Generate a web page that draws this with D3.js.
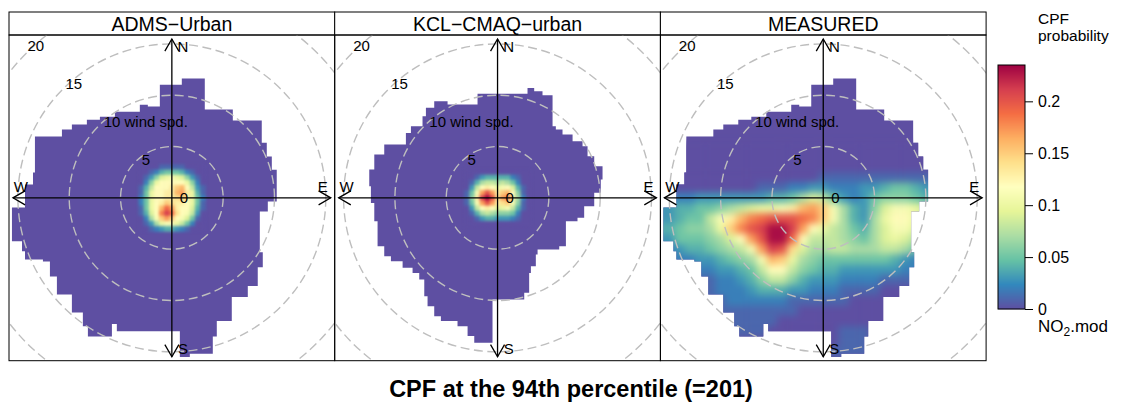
<!DOCTYPE html>
<html>
<head>
<meta charset="utf-8">
<script src="https://cdn.jsdelivr.net/npm/d3@7"></script>
<style>
  body { margin: 0; background: #fff; }
  text { font-family: "Liberation Sans", Arial, Helvetica, sans-serif; }
</style>
</head>
<body>
<svg width="1137" height="407"></svg>
<script>
const svg = d3.select('svg');

// ---- data ----
const panelNames = ["ADMS\u2212Urban", "KCL\u2212CMAQ\u2212urban", "MEASURED"];
const ringSpeeds = [5, 10, 15, 20];
const ringLabels = ["5", "10 wind spd.", "15", "20"];
const legendTicks = [0, 0.05, 0.1, 0.15, 0.2];
const cpfMax = 0.235;

// outline of the data area, [u, v] in wind speed units (ADMS and MEASURED share the met data)
const maskA = [[-1.17,11.03],[0.97,11.03],[0.97,11.62],[3.21,11.62],[3.21,8.6],[5.94,8.6],[5.94,7.53],[8.76,7.53],
  [8.76,5.38],[9.25,5.38],[9.25,4.02],[9.74,4.02],[9.74,2.75],[10.22,2.75],[10.22,-0.36],[9.35,-0.36],[9.35,-1.33],
  [8.57,-1.33],[8.57,-5.29],[8.86,-5.29],[8.86,-6.75],[8.37,-6.75],[8.37,-8.6],[7.4,-8.6],[7.4,-9.67],[5.84,-9.67],
  [5.84,-12.0],[4.38,-12.0],[4.38,-13.5],[3.99,-13.5],[3.99,-15.2],[1.75,-15.2],[1.75,-15.5],[0.78,-15.5],[0.78,-13.0],
  [-5.36,-13.0],[-5.36,-12.3],[-5.84,-12.3],[-5.84,-13.5],[-8.18,-13.5],[-8.18,-12.5],[-8.67,-12.5],[-8.67,-11.17],
  [-9.74,-11.17],[-9.74,-9.42],[-11.2,-9.42],[-11.2,-7.67],[-11.88,-7.67],[-11.88,-6.2],[-12.56,-6.2],[-12.56,-6.0],
  [-14.31,-6.0],[-14.31,-5.2],[-14.6,-5.2],[-14.6,-4.24],[-15.58,-4.24],[-15.58,-0.94],[-14.31,-0.94],[-14.31,1.3],
  [-13.53,1.3],[-13.53,2.46],[-13.34,2.46],[-13.34,5.97],[-10.71,5.97],[-10.71,6.65],[-9.74,6.65],[-9.74,7.14],
  [-8.28,7.14],[-8.28,7.62],[-7.01,7.62],[-7.01,7.9],[-5.55,7.9],[-5.55,8.4],[-3.12,8.4],[-3.12,9.08],[-2.34,9.08],
  [-2.34,8.89],[-1.17,8.89]];

// KCL-CMAQ outline
const maskK = [[-1.95,10.15],[2.92,10.15],[2.92,10.71],[3.57,10.71],[3.57,10.39],[4.38,10.39],[4.38,10.0],[5.36,10.0],
  [5.36,6.98],[5.68,6.98],[5.68,6.66],[6.33,6.66],[6.33,6.17],[7.31,6.17],[7.31,5.52],[8.28,5.52],[8.28,5.03],[8.77,5.03],
  [8.77,4.06],[9.42,4.06],[9.42,3.08],[10.23,3.08],[10.23,1.79],[10.06,1.79],[10.06,0.49],[9.42,0.49],[9.42,-0.81],
  [8.44,-0.81],[8.44,-1.95],[7.79,-1.95],[7.79,-2.27],[6.66,-2.27],[6.66,-4.71],[6.01,-4.71],[6.01,-5.03],[3.9,-5.03],
  [3.9,-5.52],[3.73,-5.52],[3.73,-6.66],[3.25,-6.66],[3.25,-7.31],[3.08,-7.31],[3.08,-9.25],[2.6,-9.25],[2.6,-9.9],
  [-0.49,-9.9],[-0.49,-14.12],[-2.27,-14.12],[-2.27,-13.47],[-2.92,-13.47],[-2.92,-12.5],[-3.9,-12.5],[-3.9,-12.01],
  [-5.52,-12.01],[-5.52,-11.53],[-6.17,-11.53],[-6.17,-10.55],[-6.82,-10.55],[-6.82,-9.58],[-7.14,-9.58],[-7.14,-7.95],
  [-7.63,-7.95],[-7.63,-7.31],[-8.28,-7.31],[-8.28,-6.82],[-9.25,-6.82],[-9.25,-6.17],[-10.39,-6.17],[-10.39,-5.68],
  [-11.04,-5.68],[-11.04,-4.71],[-11.69,-4.71],[-11.69,-2.27],[-12.01,-2.27],[-12.01,-0.49],[-12.34,-0.49],[-12.34,1.14],
  [-12.5,1.14],[-12.5,2.76],[-12.01,2.76],[-12.01,4.22],[-11.04,4.22],[-11.04,5.19],[-8.93,5.19],[-8.93,6.33],
  [-8.44,6.33],[-8.44,6.98],[-7.31,6.98],[-7.31,7.95],[-6.98,7.95],[-6.98,8.77],[-6.17,8.77],[-6.17,9.42],
  [-4.87,9.42],[-4.87,9.09],[-1.95,9.09]];

// CPF x100 on grids; everything else inside the outline is 0
const admsU = [-3,-2.5,-2,-1.5,-1,-0.5,0,0.5,1,1.5,2,2.5,3];
const admsV = [3,2.5,2,1.5,1,0.5,0,-0.5,-1,-1.5,-2,-2.5,-3];
const admsCPF = [
  [0,0,0,0,1,1,1,1,1,0,0,0,0],
  [0,0,1,2,4,5,5,5,4,2,1,0,0],
  [0,1,3,6,9,10,11,10,9,6,3,1,0],
  [0,2,6,10,12,12,12,12,12,10,6,2,0],
  [1,4,8,12,12,12,13,15,16,12,8,3,1],
  [1,5,10,12,12,13,13,16,17,13,10,4,1],
  [2,5,10,12,12,13,13,14,15,13,10,5,2],
  [2,5,10,12,13,15,14,13,13,12,10,5,1],
  [1,5,10,12,16,19,17,13,12,12,9,4,1],
  [1,4,9,12,18,21,19,14,12,11,8,3,0],
  [0,2,7,11,15,17,15,12,11,9,5,1,0],
  [0,1,3,7,10,11,11,10,8,5,2,0,0],
  [0,0,1,2,3,4,4,3,2,1,0,0,0]
];

const kclU = [-3,-2.5,-2,-1.5,-1,-0.5,0,0.5,1,1.5,2,2.5,3];
const kclV = [2.5,2,1.5,1,0.5,0,-0.5,-1,-1.5,-2,-2.5];
const kclCPF = [
  [0,0,0,0,0,0,0,0,0,0,0,0,0],
  [0,0,1,3,4,4,4,4,4,2,1,0,0],
  [0,1,4,7,8,8,7,8,7,5,2,0,0],
  [0,3,8,12,13,12,10,11,12,9,4,1,0],
  [1,5,11,17,20,17,13,15,16,12,6,1,0],
  [1,6,13,21,24,20,14,17,18,13,7,2,0],
  [1,5,11,17,20,17,13,14,15,11,6,1,0],
  [0,3,8,12,13,12,9,10,11,8,4,1,0],
  [0,1,4,7,8,7,6,6,6,5,2,0,0],
  [0,0,1,3,4,4,3,3,3,2,1,0,0],
  [0,0,0,0,0,0,0,0,0,0,0,0,0]
];

const measU = [-16,-15,-14,-13,-12,-11,-10,-9,-8,-7,-6,-5,-4,-3,-2,-1,0,1,2,3,4,5,6,7,8,9,10,11];
const measV = [5,4,3,2,1,0,-1,-2,-3,-4,-5,-6,-7,-8,-9,-10,-11,-12,-13,-14,-15,-16];
const measCPF = [
  [0,0,0,0,0,0,0,0,0,0,0,0,0,0,0,0,0,0,0,0,0,0,0,0,0,0,0,0],
  [0,0,0,0,0,0,0,0,0,0,0,0,0,0,0,0,0,0,0,0,0,0,0,0,0,0,0,0],
  [0,0,0,0,0,0,0,0,0,0,0,0,0,0,0,0,0,0,0,0,0,0,0,0,0,0,0,0],
  [0,0,0,0,0,0,0,0,0,0,0,0,0,0,0,0,1,1,1,1,1,1,1,1,1,1,1,1],
  [0,0,0,0,0,0,0,0,0,0,1,1,1,2,2,3,3,2,2,2,3,3,4,5,5,4,3,3],
  [2,2,2,2,3,3,3,3,3,3,3,4,4,5,7,9,8,5,3,2,3,5,6,6,6,5,4,4],
  [3,3,4,4,5,5,6,7,8,9,10,10,11,13,16,17,15,11,7,4,3,6,9,11,11,10,8,8],
  [3,3,4,5,5,8,11,13,16,18,19,20,20,20,19,18,15,11,7,4,3,7,10,12,12,10,7,7],
  [4,4,5,6,6,7,10,15,18,20,21,23,23,21,17,12,10,8,7,5,4,7,9,11,11,9,7,7],
  [3,3,5,5,5,6,7,9,12,17,20,23,23,19,12,8,8,8,7,6,5,7,9,10,9,7,5,5],
  [2,2,3,4,4,5,6,7,8,11,17,21,20,14,9,7,7,8,8,7,7,7,8,8,7,5,4,4],
  [2,2,2,2,3,3,4,5,6,7,11,16,15,10,7,6,5,5,5,5,5,5,5,4,3,2,2,2],
  [1,1,1,2,2,2,3,3,4,5,8,12,12,8,6,5,4,4,3,3,3,3,3,3,2,2,1,1],
  [1,1,1,1,1,1,2,2,3,4,6,8,8,6,4,3,3,3,2,2,2,2,1,1,1,1,1,1],
  [1,1,1,1,1,1,2,2,2,3,4,4,4,3,3,2,2,2,1,1,1,1,0,0,0,0,0,0],
  [1,1,1,1,1,1,1,2,2,2,2,2,2,1,1,1,1,1,1,0,0,0,0,0,0,0,0,0],
  [1,1,1,1,1,1,1,1,1,1,1,1,1,1,0,0,0,0,0,0,0,0,0,0,0,0,0,0],
  [0,0,0,0,0,0,0,1,1,1,1,1,0,0,0,0,0,0,0,0,0,0,0,0,0,0,0,0],
  [0,0,0,0,0,0,0,1,1,1,1,0,0,0,0,0,0,0,1,1,1,0,0,0,0,0,0,0],
  [0,0,0,0,0,0,0,0,0,0,0,0,0,0,0,0,0,0,1,1,1,0,0,0,0,0,0,0],
  [0,0,0,0,0,0,0,0,0,0,0,0,0,0,0,0,0,1,1,1,1,0,0,0,0,0,0,0],
  [0,0,0,0,0,0,0,0,0,0,0,0,0,0,0,0,0,0,0,0,0,0,0,0,0,0,0,0]
];

// ---- layout ----
const margin = {left: 9, top: 12};
const stripH = 23;
const pw = 325.7;            // panel width = height
const upper = 15.48;         // axis extent in wind speed units
const lim = upper * 1.025;

const xs = d3.scaleLinear().domain([-lim, lim]).range([0, pw]);
const ys = d3.scaleLinear().domain([-lim, lim]).range([pw, 0]);
const color = d3.scaleLinear()
  .domain(d3.range(11).map(i => cpfMax * i / 10))
  .range(d3.schemeSpectral[11].slice().reverse())
  .clamp(true);

const defs = svg.append('defs');
[['blurS', 1.6], ['blurL', 3.6]].forEach(([id, sd]) => {
  defs.append('filter').attr('id', id)
    .attr('x', '-10%').attr('y', '-10%').attr('width', '120%').attr('height', '120%')
    .attr('color-interpolation-filters', 'sRGB')
    .append('feGaussianBlur').attr('stdDeviation', sd);
});

const outline = d3.line().x(d => xs(d[0])).y(d => ys(d[1]));

const panels = [
  {mask: maskA, u: admsU, v: admsV, cpf: admsCPF, step: 0.5, blur: 'blurS'},
  {mask: maskK, u: kclU, v: kclV, cpf: kclCPF, step: 0.5, blur: 'blurS'},
  {mask: maskA, u: measU, v: measV, cpf: measCPF, step: 1, blur: 'blurL'}
];

panels.forEach((p, i) => {
  const px = margin.left + i * pw;

  // strip
  svg.append('rect')
    .attr('x', px).attr('y', margin.top).attr('width', pw).attr('height', stripH)
    .attr('fill', 'white').attr('stroke', 'black').attr('stroke-width', 1);
  svg.append('text')
    .attr('x', px + pw / 2).attr('y', margin.top + 18.6)
    .attr('text-anchor', 'middle').style('font-size', '19.5px')
    .text(panelNames[i]);

  const g = svg.append('g').attr('transform', `translate(${px},${margin.top + stripH})`);
  defs.append('clipPath').attr('id', 'panel' + i)
    .append('rect').attr('width', pw).attr('height', pw);
  defs.append('clipPath').attr('id', 'mask' + i)
    .append('path').attr('d', outline(p.mask) + 'Z');

  const inner = g.append('g').attr('clip-path', `url(#panel${i})`);

  // zero-probability area
  inner.append('path').attr('d', outline(p.mask) + 'Z').attr('fill', color(0));

  // cells
  const cells = [];
  p.cpf.forEach((row, j) => row.forEach((val, k) => cells.push({u: p.u[k], v: p.v[j], cpf: val / 100})));
  const cw = xs(p.step) - xs(0);
  inner.append('g').attr('clip-path', `url(#mask${i})`)
    .append('g').attr('filter', `url(#${p.blur})`)
    .selectAll('rect').data(cells).join('rect')
      .attr('x', d => xs(d.u - p.step / 2))
      .attr('y', d => ys(d.v + p.step / 2))
      .attr('width', cw + 0.5)
      .attr('height', cw + 0.5)
      .attr('fill', d => color(d.cpf));

  // dashed wind speed rings
  inner.selectAll('circle.ring').data(ringSpeeds).join('circle')
    .attr('class', 'ring')
    .attr('cx', xs(0)).attr('cy', ys(0))
    .attr('r', d => xs(d) - xs(0))
    .attr('fill', 'none').attr('stroke', '#bebebe')
    .attr('stroke-width', 1.4).attr('stroke-dasharray', '9,4.5');

  // compass axes with arrow heads at both ends
  const ax = inner.append('g').attr('stroke', 'black').attr('stroke-width', 1.3).attr('fill', 'none');
  ax.append('line').attr('x1', xs(-upper)).attr('x2', xs(upper)).attr('y1', ys(0)).attr('y2', ys(0));
  ax.append('line').attr('x1', xs(0)).attr('x2', xs(0)).attr('y1', ys(-upper)).attr('y2', ys(upper));
  const headLen = 14, headAng = Math.PI / 6;
  [[upper, 0], [-upper, 0], [0, upper], [0, -upper]].forEach(([eu, ev]) => {
    const tx = xs(eu), ty = ys(ev);
    const ang = Math.atan2(ty - ys(0), tx - xs(0));
    const pts = [ang - headAng, ang + headAng].map(a => [tx - headLen * Math.cos(a), ty - headLen * Math.sin(a)]);
    ax.append('path').attr('d', `M${pts[0]}L${tx},${ty}L${pts[1]}`);
  });

  // labels
  const lab = g.append('g').style('font-size', '15px');
  [['N', 0.07, 0.95], ['E', 0.95, 0.07], ['S', 0.07, -0.95], ['W', -0.95, 0.07]].forEach(([t, fu, fv]) => {
    lab.append('text').attr('x', xs(fu * upper)).attr('y', ys(fv * upper))
      .attr('text-anchor', 'middle').attr('dominant-baseline', 'central').text(t);
  });
  lab.selectAll('text.ringlab').data(ringSpeeds).join('text')
    .attr('class', 'ringlab')
    .attr('x', d => xs(-d * 1.05 * Math.SQRT1_2) + 8)
    .attr('y', d => ys(d * 1.05 * Math.SQRT1_2))
    .attr('dominant-baseline', 'central')
    .text((d, j) => ringLabels[j]);
  lab.append('text').attr('x', xs(0) + 8).attr('y', ys(0))
    .attr('dominant-baseline', 'central').text('0');

  // panel border
  g.append('rect').attr('width', pw).attr('height', pw)
    .attr('fill', 'none').attr('stroke', 'black').attr('stroke-width', 1);
});

// ---- colour key ----
const keyX = 998, keyW = 27;
const keyScale = d3.scaleLinear().domain([0, cpfMax]).range([309, 65]);
const key = svg.append('g');
key.selectAll('rect.step').data(d3.range(0, 244)).join('rect')
  .attr('class', 'step')
  .attr('x', keyX).attr('y', d => 65 + d)
  .attr('width', keyW).attr('height', 1.3)
  .attr('fill', d => color(keyScale.invert(65 + d + 0.5)));
key.append('rect').attr('x', keyX).attr('y', 65).attr('width', keyW).attr('height', 244)
  .attr('fill', 'none').attr('stroke', 'black').attr('stroke-width', 1);
const keyAxis = key.append('g').attr('transform', `translate(${keyX + keyW},0)`)
  .call(d3.axisRight(keyScale).tickValues(legendTicks).tickSize(8).tickPadding(5).tickFormat(d => String(d)));
keyAxis.select('.domain').remove();
keyAxis.selectAll('text').style('font-size', '16px').style('font-family', '"Liberation Sans", Arial, sans-serif');

key.append('text').attr('x', 1038).attr('y', 24).style('font-size', '15.5px').text('CPF');
key.append('text').attr('x', 1038).attr('y', 41).style('font-size', '15.5px').text('probability');
const no2 = key.append('text').attr('x', 1038).attr('y', 332).style('font-size', '17px');
no2.append('tspan').text('NO');
no2.append('tspan').attr('dy', 4).style('font-size', '12px').text('2');
no2.append('tspan').attr('dy', -4).text('.mod');

// ---- title ----
svg.append('text')
  .attr('x', 571).attr('y', 397)
  .attr('text-anchor', 'middle')
  .style('font-size', '23.5px').style('font-weight', 'bold')
  .text('CPF at the 94th percentile (=201)');
</script>
</body>
</html>
